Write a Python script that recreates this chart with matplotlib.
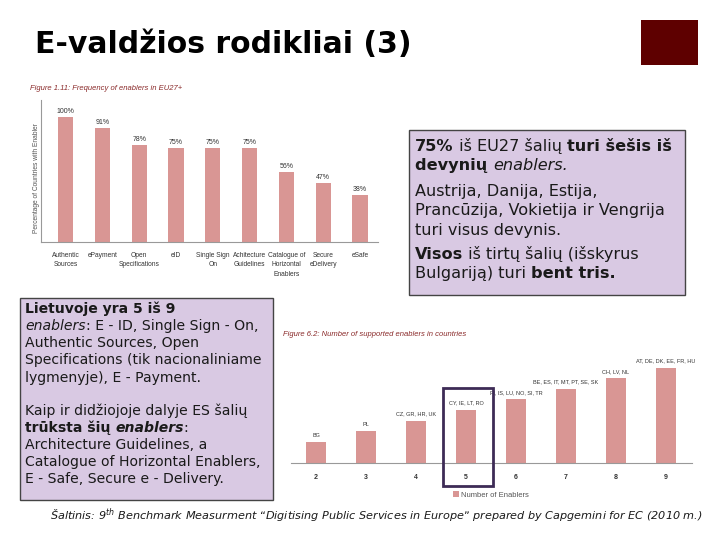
import matplotlib
matplotlib.use("Agg")
import matplotlib.pyplot as plt
from matplotlib.patches import Rectangle

# ---- data ----
enablers = ["Authentic\nSources", "ePayment", "Open\nSpecifications", "eID",
            "Single Sign\nOn", "Achitecture\nGuidelines",
            "Catalogue of\nHorizontal\nEnablers", "Secure\neDelivery", "eSafe"]
freq = [100, 91, 78, 75, 75, 75, 56, 47, 38]

n_enablers = [2, 3, 4, 5, 6, 7, 8, 9]
countries = ["BG", "PL", "CZ, GR, HR, UK", "CY, IE, LT, RO",
             "FI, IS, LU, NO, SI, TR", "BE, ES, IT, MT, PT, SE, SK",
             "CH, LV, NL", "AT, DE, DK, EE, FR, HU"]

BAR = "#d99694"
BOX = "#d9c9e3"
W, H = 720, 540

fig = plt.figure(figsize=(7.2, 5.4), dpi=100)
fig.patch.set_facecolor("white")


def px(x, y):
    return x / W, 1 - y / H


def axes_px(l, t, r, b):
    return fig.add_axes([l / W, 1 - b / H, (r - l) / W, (b - t) / H])


# ---- title and corner square ----
fig.text(*px(35, 53), "E-valdžios rodikliai (3)", fontsize=21.5, fontweight="bold",
         family="DejaVu Sans", va="baseline", ha="left", color="black")
fig.patches.append(Rectangle(px(641, 65), 57 / W, 45 / H, transform=fig.transFigure,
                             facecolor="#5e0000", edgecolor="none"))

# ---- figure 1.11 ----
fig.text(*px(30, 89), "Figure 1.11: Frequency of enablers in EU27+", fontsize=5.5,
         style="italic", color="#8a2a2a", family="Liberation Sans", va="center")
ax1 = axes_px(41, 100, 378, 242)
x1 = list(range(len(freq)))
ax1.bar(x1, freq, width=0.41, color=BAR)
ax1.set_xlim(-0.67, 8.49)
ax1.set_ylim(0, 100 * (242 - 100) / (242 - 117))
for xi, v in zip(x1, freq):
    ax1.text(xi, v + 1.5, f"{v}%", ha="center", va="bottom", fontsize=5,
             color="#333333", family="Liberation Sans")
ax1.set_xticks(x1)
ax1.set_xticklabels(enablers, fontsize=4.8, color="#333333", family="Liberation Sans",
                    linespacing=1.5, va="top")
ax1.tick_params(length=0, pad=7, labelleft=False, left=False)
for s in ["top", "right"]:
    ax1.spines[s].set_visible(False)
for s in ["left", "bottom"]:
    ax1.spines[s].set_color("#999999")
    ax1.spines[s].set_linewidth(0.8)
fig.text(*px(36, 178), "Percentage of Countries with Enabler", rotation=90,
         fontsize=4.8, color="#555555", ha="center", va="center", family="Liberation Sans")

# ---- figure 6.2 ----
fig.text(*px(283, 334), "Figure 6.2: Number of supported enablers in countries",
         fontsize=5.5, style="italic", color="#8a2a2a", family="Liberation Sans", va="center")
ax2 = axes_px(291, 350, 692, 463)
x2 = list(range(len(n_enablers)))
ax2.bar(x2, n_enablers, width=0.4, color=BAR, label="Number of Enablers")
ax2.set_xlim(-0.5, 7.52)
ax2.set_ylim(0, (463 - 350) / 10.6)
for xi, v, c in zip(x2, n_enablers, countries):
    ax2.text(xi, v + 0.4, c, ha="center", va="bottom", fontsize=4.0,
             color="#333333", family="Liberation Sans")
ax2.set_xticks(x2)
ax2.set_xticklabels([str(v) for v in n_enablers], fontsize=5, fontweight="bold",
                    color="#333333", family="Liberation Sans")
ax2.tick_params(length=0, pad=8, left=False, labelleft=False)
for s in ["top", "right", "left"]:
    ax2.spines[s].set_visible(False)
ax2.spines["bottom"].set_color("#999999")
ax2.spines["bottom"].set_linewidth(0.8)
ax2.legend(loc="upper center", bbox_to_anchor=(px(491, 0)[0], px(0, 491)[1] + 0.012),
           bbox_transform=fig.transFigure, frameon=False, handlelength=0.8,
           handleheight=0.8, handletextpad=0.3, prop={"family": "Liberation Sans", "size": 5.5})
for t in ax2.get_legend().get_texts():
    t.set_color("#555555")
fig.patches.append(Rectangle(px(443, 486), 50 / W, 98 / H, transform=fig.transFigure,
                             facecolor="none", edgecolor="#3d2b56", linewidth=2))

# ---- text boxes ----
renderer = fig.canvas.get_renderer()


def runs(x, y, parts, size):
    for s, w, st in parts:
        t = fig.text(*px(x, y), s, fontsize=size, fontweight=w, fontstyle=st,
                     family="DejaVu Sans", va="baseline", ha="left", color="#1a1a1a")
        x += t.get_window_extent(renderer).width


N, B, I = "normal", "bold", "italic"

fig.patches.append(Rectangle(px(409, 295), 276 / W, 165 / H, transform=fig.transFigure,
                             facecolor=BOX, edgecolor="#444444", linewidth=1))
box1 = [
    (151, [("75%", B, N), (" iš EU27 šalių ", N, N), ("turi šešis iš", B, N)]),
    (170, [("devynių ", B, N), ("enablers.", N, I)]),
    (196, [("Austrija, Danija, Estija,", N, N)]),
    (215, [("Prancūzija, Vokietija ir Vengrija", N, N)]),
    (235, [("turi visus devynis.", N, N)]),
    (259, [("Visos", B, N), (" iš tirtų šalių (išskyrus", N, N)]),
    (278, [("Bulgariją) turi ", N, N), ("bent tris.", B, N)]),
]
for yy, parts in box1:
    runs(415, yy, parts, 11.6)

fig.patches.append(Rectangle(px(20, 500), 253 / W, 202 / H, transform=fig.transFigure,
                             facecolor=BOX, edgecolor="#444444", linewidth=1))
box2 = [
    (313, [("Lietuvoje yra 5 iš 9", B, N)]),
    (330, [("enablers", N, I), (": E - ID, Single Sign - On,", N, N)]),
    (347, [("Authentic Sources, Open", N, N)]),
    (364, [("Specifications (tik nacionaliniame", N, N)]),
    (382, [("lygmenyje), E - Payment.", N, N)]),
    (415, [("Kaip ir didžiojoje dalyje ES šalių", N, N)]),
    (432, [("trūksta šių ", B, N), ("enablers", B, I), (":", N, N)]),
    (449, [("Architecture Guidelines, a", N, N)]),
    (466, [("Catalogue of Horizontal Enablers,", N, N)]),
    (483, [("E - Safe, Secure e - Delivery.", N, N)]),
]
for yy, parts in box2:
    runs(25, yy, parts, 10.1)

# ---- source ----
fig.text(*px(50, 516), "Šaltinis: 9$^{th}$ Benchmark Measurment \u201cDigitising Public Services "
         "in Europe\u201d prepared by Capgemini for EC (2010 m.)", fontsize=8.1,
         style="italic", family="DejaVu Sans", va="center", color="#1a1a1a")

plt.savefig("out.png", dpi=100)
